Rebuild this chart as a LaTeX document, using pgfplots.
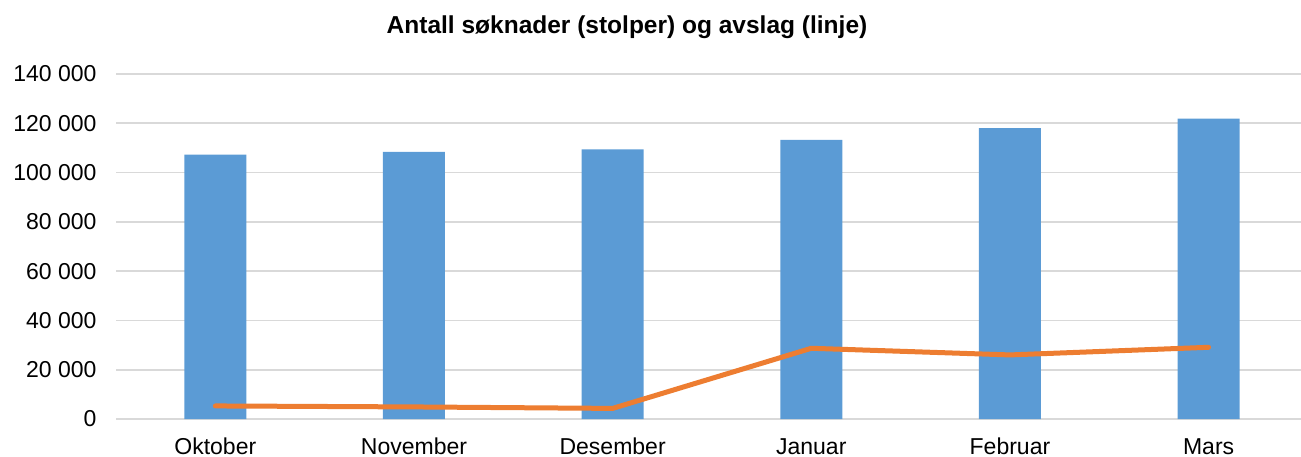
\documentclass[border=0pt]{standalone}
\usepackage{pgfplots}
\pgfplotsset{compat=1.18}
\usepackage{fontspec}
\setmainfont{Liberation Sans}
\definecolor{barblue}{HTML}{5B9BD5}
\definecolor{lineorange}{HTML}{ED7D31}
\definecolor{gridgray}{HTML}{D9D9D9}
\begin{document}
\begin{tikzpicture}[x=1pt,y=1pt]
 \path[use as bounding box] (0,0) rectangle (1301,456);
 \begin{axis}[at={(116pt,37pt)},anchor=south west,scale only axis,
  width=1192pt,height=345pt,
  xmin=-0.5,xmax=5.5,ymin=0,ymax=140000,
  xtick={0,...,5},xticklabels={Oktober,November,Desember,Januar,Februar,Mars},
  ytick={0,20000,40000,60000,80000,100000,120000,140000},
  yticklabels={0,20 000,40 000,60 000,80 000,100 000,120 000,140 000},
  scaled y ticks=false,
  axis line style={draw=none},major tick length=0pt,
  ymajorgrids,grid style={gridgray,line width=1.6pt},
  tick label style={font=\fontsize{23}{27}\selectfont,text=black},
  yticklabel style={anchor=east,xshift=-16pt},
  xticklabel style={anchor=base,yshift=-35pt},
  clip=false]
  \addplot[ybar,bar width=62pt,fill=barblue,draw=none] coordinates
   {(0,107300)(1,108400)(2,109400)(3,113300)(4,118000)(5,121900)};
  \addplot[lineorange,line width=5pt,line cap=round,line join=round] coordinates
   {(0,5300)(1,4900)(2,4300)(3,28700)(4,26000)(5,29100)};
 \end{axis}
 \node[anchor=base,font=\fontsize{24.5}{28}\selectfont\bfseries] at (627,422)
  {Antall søknader (stolper) og avslag (linje)};
\end{tikzpicture}
\end{document}
